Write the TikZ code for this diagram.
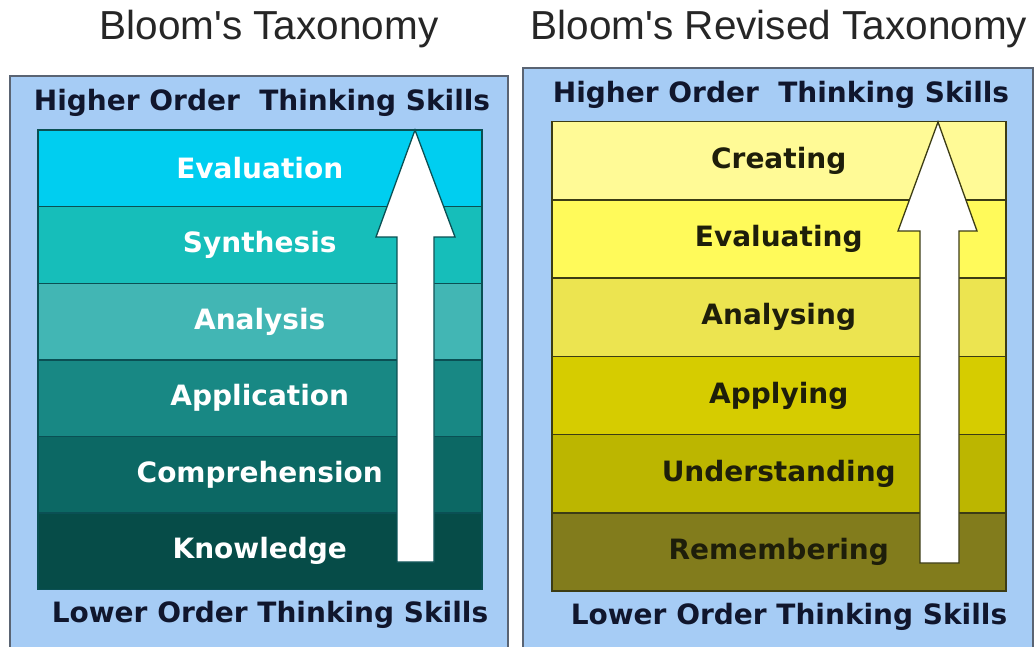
\documentclass[tikz,border=0pt]{standalone}
\usepackage{fontspec}
\setmainfont{Liberation Sans}
\newfontfamily\ttl{Liberation Sans}
\newfontfamily\verd{DejaVu Sans}
\definecolor{outerfill}{RGB}{166,204,245}
\definecolor{outerline}{RGB}{90,100,115}
\definecolor{navy}{RGB}{16,22,45}
\definecolor{cA}{RGB}{0,206,240}
\definecolor{cB}{RGB}{22,190,186}
\definecolor{cC}{RGB}{66,182,180}
\definecolor{cD}{RGB}{24,136,132}
\definecolor{cE}{RGB}{12,104,100}
\definecolor{cF}{RGB}{6,76,72}
\definecolor{tline}{RGB}{10,80,84}
\definecolor{yA}{RGB}{255,250,150}
\definecolor{yB}{RGB}{255,250,90}
\definecolor{yC}{RGB}{236,228,80}
\definecolor{yD}{RGB}{214,204,0}
\definecolor{yE}{RGB}{188,182,0}
\definecolor{yF}{RGB}{130,124,28}
\definecolor{yline}{RGB}{60,60,20}
\definecolor{ytext}{RGB}{30,30,10}
\tikzset{
  outerbox/.style={draw=outerline, line width=1.6pt, fill=outerfill},
  band/.style={draw=#1, line width=1.5pt, anchor=north west, inner sep=0pt, font=\verd\bfseries\fontsize{28}{28}\selectfont},
  tband/.style={band=tline, minimum width=444pt, minimum height=76.5pt, text=white},
  yband/.style={band=yline, minimum width=454pt, minimum height=78.2pt, text=ytext},
  skills/.style={font=\verd\bfseries\fontsize{28}{28}\selectfont, text=navy, inner sep=0pt},
  titletext/.style={font=\ttl\fontsize{40.5}{40.5}\selectfont, text=black!85, inner sep=0pt},
  uparrow/.style={draw=#1, line width=1.3pt, fill=white, line join=miter},
}
\begin{document}
\begin{tikzpicture}[x=1pt,y=-1pt]
\useasboundingbox (0,0) rectangle (1036,647);
\clip (0,0) rectangle (1036,647);
\fill[white] (0,0) rectangle (1036,647);
% titles
\node[titletext] (t1) at (269,29) {Bloom's Taxonomy};
\node[titletext] (t2) at (779,29) {Bloom's Revised Taxonomy};
% left panel
\draw[outerbox] (10,76) rectangle (508,660);
\node[skills] (h1) at (262,103) {Higher Order\ \ Thinking Skills};
\node[tband, fill=cA] (l1) at (37,129.5) {Evaluation};
\node[tband, fill=cB] (l2) at (37,206) {Synthesis};
\node[tband, fill=cC] (l3) at (37,282.5) {Analysis};
\node[tband, fill=cD] (l4) at (37,359) {Application};
\node[tband, fill=cE] (l5) at (37,435.5) {Comprehension};
\node[tband, fill=cF] (l6) at (37,512) {Knowledge};
\draw[uparrow=tline] (415,130) -- (455,237) -- (434,237) -- (434,562) -- (397,562) -- (397,237) -- (376,237) -- cycle;
\node[skills] (b1) at (270,615) {Lower Order Thinking Skills};
% right panel
\draw[outerbox] (523,68) rectangle (1033,660);
\node[skills] (h2) at (781,95) {Higher Order\ \ Thinking Skills};
\node[yband, fill=yA] (r1) at (551,121) {Creating};
\node[yband, fill=yB] (r2) at (551,199.2) {Evaluating};
\node[yband, fill=yC] (r3) at (551,277.4) {Analysing};
\node[yband, fill=yD] (r4) at (551,355.6) {Applying};
\node[yband, fill=yE] (r5) at (551,433.8) {Understanding};
\node[yband, fill=yF] (r6) at (551,512) {Remembering};
\draw[uparrow=yline] (938,122) -- (977,231) -- (959,231) -- (959,563) -- (920,563) -- (920,231) -- (898,231) -- cycle;
\node[skills] (b2) at (789,617) {Lower Order Thinking Skills};
\end{tikzpicture}
\end{document}
